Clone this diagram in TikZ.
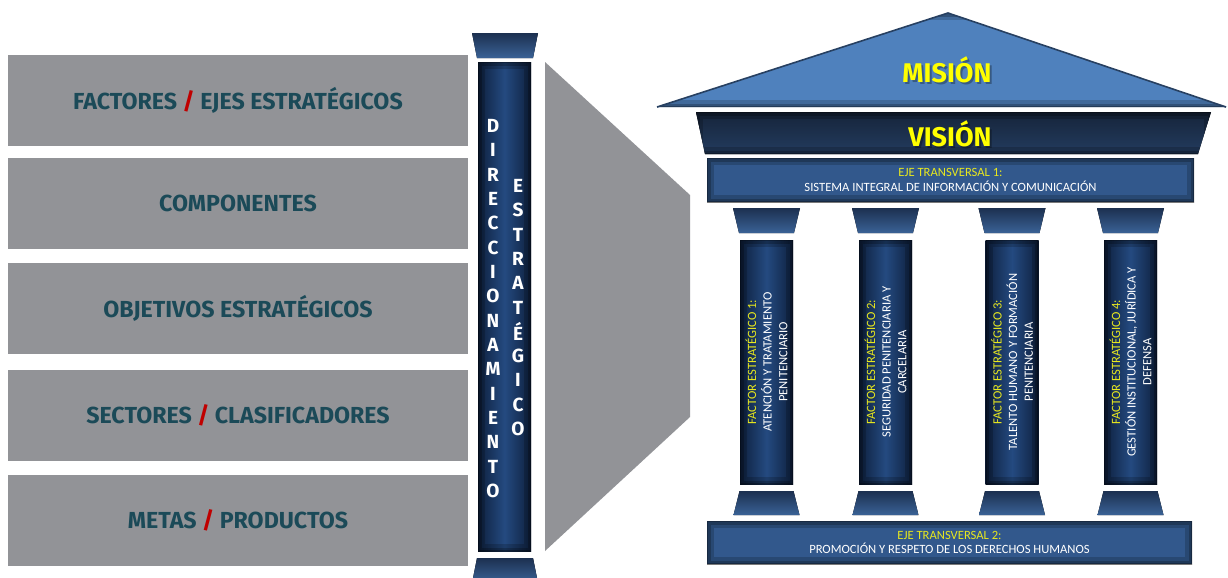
\documentclass[tikz,border=0pt]{standalone}
\usepackage{fontspec}
\setmainfont{Fira Sans}
\newfontfamily\smallfont{Carlito}
\definecolor{boxgray}{RGB}{146,147,151}
\definecolor{teal}{RGB}{27,74,88}
\definecolor{slash}{RGB}{192,0,0}
\definecolor{navyD}{RGB}{14,32,62}
\definecolor{navyM}{RGB}{36,74,128}
\definecolor{boxC}{RGB}{50,88,140}
\definecolor{visC}{RGB}{35,60,95}
\definecolor{visD}{RGB}{22,36,58}
\definecolor{capTop}{RGB}{28,48,80}
\definecolor{capBot}{RGB}{58,98,150}
\definecolor{roofC}{RGB}{79,129,189}
\definecolor{ylw}{RGB}{255,255,0}
\definecolor{ylwS}{RGB}{232,232,30}
\tikzset{
  vig/.style={path picture={
    \draw[line width=7pt,black,opacity=0.18] (path picture bounding box.south west) rectangle (path picture bounding box.north east);
    \draw[line width=3.5pt,black,opacity=0.22] (path picture bounding box.south west) rectangle (path picture bounding box.north east);
    \draw[line width=1.2pt,black,opacity=0.25] (path picture bounding box.south west) rectangle (path picture bounding box.north east);}},
  leftbox/.style={fill=boxgray, minimum width=230pt, minimum height=45.5pt, inner sep=0pt,
    text=teal, font=\bfseries\fontsize{11.6}{13}\selectfont},
  shaft/.style={left color=navyD, right color=navyD, middle color=navyM, vig,
    minimum width=26.5pt, minimum height=122pt, inner sep=0pt},
  colletter/.style={text=white, font=\bfseries\fontsize{9.5}{10}\selectfont, inner sep=0pt},
  capital/.style={top color=capTop, bottom color=capBot},
  base/.style={top color=capTop, bottom color=capBot},
  bandbox/.style={fill=boxC, vig, inner sep=0pt, text=white, align=center,
    font=\smallfont\fontsize{6.3}{7.4}\selectfont},
  pillartext/.style={rotate=90, align=center, text=white, inner sep=0pt,
    font=\smallfont\fontsize{6.3}{7.8}\selectfont},
  bigtitle/.style={text=ylw, font=\bfseries\fontsize{13.5}{15}\selectfont, inner sep=0pt},
  shadowtitle/.style={text=black, opacity=0.3, font=\bfseries\fontsize{13.5}{15}\selectfont, inner sep=0pt},
}
\begin{document}
\begin{tikzpicture}[x=0.5pt,y=-0.5pt]
\useasboundingbox (0,0) rectangle (1228,578);

% left boxes
\node[leftbox] (b1) at (238,100.5) {FACTORES {\color{slash}/} EJES ESTRATÉGICOS};
\node[leftbox] (b2) at (238,203.5) {COMPONENTES};
\node[leftbox] (b3) at (238,308.5) {OBJETIVOS ESTRATÉGICOS};
\node[leftbox] (b4) at (238,415.5) {SECTORES {\color{slash}/} CLASIFICADORES};
\node[leftbox] (b5) at (238,520.5) {METAS {\color{slash}/} PRODUCTOS};

% central column
\fill[capital] (472,33) -- (538,33) -- (533,58) -- (477,58) -- cycle;
\node[shaft, minimum height=244.5pt] (col) at (504.5,306.5) {};
\fill[base] (477,558) -- (533,558) -- (538,583) -- (472,583) -- cycle;
\foreach \l [count=\i from 0] in {D,I,R,E,C,C,I,O,N,A,M,I,E,N,T,O}
  \node[colletter] (d\i) at (493,{126+24.33*\i}) {\l};
\foreach \l [count=\i from 0] in {E,S,T,R,A,T,É,G,I,C,O}
  \node[colletter] (e\i) at (518,{186+24.3*\i}) {\l};

% gray funnel
\fill[boxgray] (545,62) -- (690,195) -- (690,417) -- (545,551) -- cycle;

% roof
\fill[roofC, vig] (657,107) -- (948,13) -- (1226,107) -- cycle;
\draw[visD!70!roofC, line width=0.8pt] (657,107) -- (948,13) -- (1226,107);
\node[shadowtitle] at (949,72) {MISIÓN};
\node[bigtitle] (mision) at (947,70) {MISIÓN};

% vision
\fill[top color=visD, bottom color=visC, vig] (696,112) -- (1211,112) -- (1198,154) -- (705,154) -- cycle;
\node[shadowtitle] at (952,136) {VISIÓN};
\node[bigtitle] (vision) at (950,134) {VISIÓN};

% transversal 1
\node[bandbox, minimum width=243.5pt, minimum height=22pt] (t1) at (950.5,180)
  {{\color{ylwS}EJE TRANSVERSAL 1:}\\SISTEMA INTEGRAL DE INFORMACIÓN Y COMUNICACIÓN};

% pillars
\foreach \c/\n in {766.5/1,885.5/2,1012/3,1130.5/4}{
  \fill[capital] (\c-33.5,208) -- (\c+33.5,208) -- (\c+27.5,233) -- (\c-27.5,233) -- cycle;
  \node[shaft, minimum height=122pt] (p\n) at (\c,362) {};
  \fill[base] (\c-27,491) -- (\c+27,491) -- (\c+33,515) -- (\c-33,515) -- cycle;
}
\node[pillartext] at (p1) {{\color{ylwS}FACTOR ESTRATÉGICO 1:}\\ATENCIÓN Y TRATAMIENTO\\PENITENCIARIO};
\node[pillartext] at (p2) {{\color{ylwS}FACTOR ESTRATÉGICO 2:}\\SEGURIDAD PENITENCIARIA Y\\CARCELARIA};
\node[pillartext] at (p3) {{\color{ylwS}FACTOR ESTRATÉGICO 3:}\\TALENTO HUMANO Y FORMACIÓN\\PENITENCIARIA};
\node[pillartext] at (p4) {{\color{ylwS}FACTOR ESTRATÉGICO 4:}\\GESTIÓN INSTITUCIONAL, JURÍDICA Y\\DEFENSA};

% transversal 2
\node[bandbox, minimum width=242.5pt, minimum height=21.5pt] (t2) at (949.5,542.5)
  {{\color{ylwS}EJE TRANSVERSAL 2:}\\PROMOCIÓN Y RESPETO DE LOS DERECHOS HUMANOS};
\end{tikzpicture}
\end{document}
